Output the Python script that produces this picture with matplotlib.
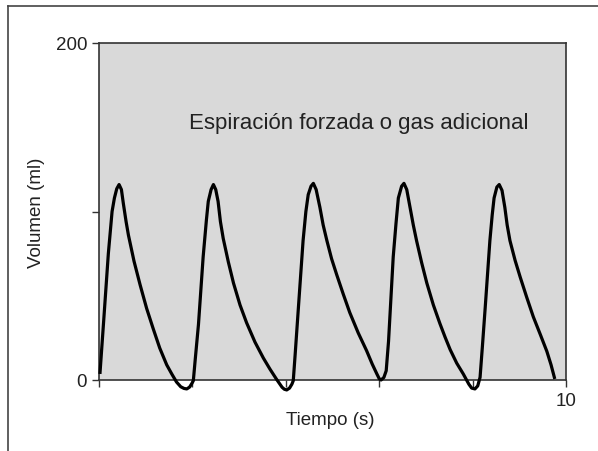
import numpy as np
import matplotlib.pyplot as plt
from matplotlib.lines import Line2D

plt.rcParams['font.family'] = ['Liberation Sans', 'DejaVu Sans']

# volume trace, one list per breath (s, ml)
t1 = [0.02, 0.10, 0.20, 0.28, 0.33, 0.38, 0.43, 0.48, 0.52, 0.58, 0.63, 0.75, 0.88, 1.02, 1.16,
      1.30, 1.45, 1.56, 1.66, 1.75, 1.82, 1.88, 1.94, 1.99, 2.02]
v1 = [3.6, 35, 75, 100, 108, 113.5, 116, 113, 105, 94, 86, 70.5, 56.5, 42.5, 30.5,
      19, 9, 3.5, -1.2, -4, -5, -5.3, -4.2, -2, -0.4]
t2 = [2.06, 2.13, 2.23, 2.30, 2.34, 2.40, 2.45, 2.50, 2.55, 2.60, 2.66, 2.77, 2.88, 3.02, 3.16,
      3.34, 3.52, 3.66, 3.80, 3.92, 3.97, 4.02, 4.08, 4.13, 4.16]
v2 = [12, 33, 73, 95, 106, 113, 116, 113, 106, 94, 84, 70, 57.5, 44.5, 34,
      22.5, 13, 6.5, 0.5, -4.3, -5.5, -5.9, -4.8, -2.5, -0.4]
t3 = [4.20, 4.27, 4.37, 4.43, 4.48, 4.54, 4.59, 4.65, 4.73, 4.80, 4.88, 4.98, 5.09, 5.23,
      5.37, 5.55, 5.73, 5.85, 5.95, 6.00, 6.04, 6.10, 6.15]
v3 = [15, 43, 82.7, 100, 110, 115, 116.7, 113, 102.5, 92, 82.7, 72, 62.5, 51,
      40, 28, 17.4, 9.5, 3.6, 0.8, 0, 1.5, 5.5]
t4 = [6.20, 6.25, 6.30, 6.36, 6.41, 6.48, 6.53, 6.59, 6.66, 6.73, 6.80, 6.91, 7.02, 7.16,
      7.30, 7.41, 7.52, 7.66, 7.80, 7.92, 7.98, 8.05, 8.11, 8.16]
v4 = [23, 48, 73, 93, 108, 115, 116.7, 113, 102.5, 92, 82.7, 69.5, 57.5, 44.5,
      33.5, 25.5, 18, 10, 3.6, -2.5, -4.8, -5.3, -3.5, 1.6]
t5 = [8.21, 8.27, 8.37, 8.42, 8.46, 8.52, 8.57, 8.63, 8.69, 8.74, 8.80, 8.91, 9.02, 9.16,
      9.30, 9.45, 9.59, 9.68, 9.76]
v5 = [20, 43, 82.7, 98, 108, 114.5, 116, 112.5, 102.5, 92, 82.7, 71, 61, 49,
      37.5, 27, 17, 9, 0.6]

tiempo = t1 + t2 + t3 + t4 + t5
volumen = v1 + v2 + v3 + v4 + v5

fig = plt.figure(figsize=(5.98, 4.52), dpi=100)
ax = fig.add_axes([99 / 598, 71 / 452, 467 / 598, 337 / 452])
ax.set_facecolor('#d9d9d9')

ax.plot(tiempo, volumen, color='black', lw=2.3, solid_joinstyle='round',
        solid_capstyle='butt', clip_on=False, zorder=3)

ax.text(5.57, 153, 'Espiración forzada o gas adicional', ha='center', va='center',
        fontsize=16, color='#222222')

ax.set_xlim(0, 10)
ax.set_ylim(0, 200)
ax.set_xticks([0, 2, 4, 6, 8, 10])
ax.set_xticklabels(['', '', '', '', '', '10'])
ax.set_yticks([0, 100, 200])
ax.set_yticklabels(['0', '', '200'])
ax.tick_params(axis='both', direction='out', length=5, width=1, color='#333333',
               labelsize=13.5, labelcolor='#222222')
for s in ax.spines.values():
    s.set_color('#333333')
    s.set_linewidth(1.2)

ax.set_xlabel('Tiempo (s)', fontsize=13.5, color='#222222')
ax.set_ylabel('Volumen (ml)', fontsize=13.5, color='#222222')
ax.xaxis.set_label_coords(0.495, -0.093)
ax.yaxis.set_label_coords(-0.116, 0.5)

# outer frame, only left and top edges fall inside the canvas
fig.add_artist(Line2D([8 / 598, 8 / 598], [0, 445 / 452], color='#444444', lw=1.2))
fig.add_artist(Line2D([8 / 598, 1], [445 / 452, 445 / 452], color='#444444', lw=1.2))

fig.savefig('out.png', dpi=100)
